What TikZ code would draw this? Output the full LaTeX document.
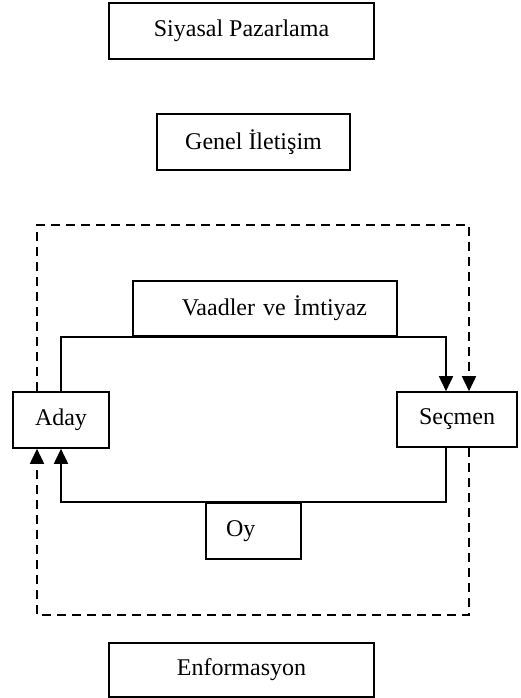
\documentclass[tikz,border=0pt]{standalone}
\usepackage{fontspec}
\setmainfont{Liberation Serif}
\usetikzlibrary{arrows.meta}

\begin{document}
\begin{tikzpicture}[x=1pt, y=-1pt,
    font=\fontsize{24}{28}\selectfont,
    box/.style={draw, line width=1.6pt, inner sep=0pt, anchor=center},
    link/.style={line width=1.7pt},
    info/.style={line width=1.7pt, dash pattern=on 9pt off 6pt},
    tip/.style={-{Triangle[width=14pt, length=15pt]}}]
    \useasboundingbox (0,0) rectangle (521,698);

    % Top boxes
    \node[box, minimum width=265pt, minimum height=56pt] (pazar) at (241.5,31) {Siyasal Pazarlama};
    \node[box, minimum width=193pt, minimum height=56pt] (genel) at (253.5,142) {Genel İletişim};

    % Actors
    \node[box, minimum width=96pt, minimum height=56pt] (aday) at (61,420) {Aday};
    \node[box, minimum width=120pt, minimum height=55pt] (secmen) at (457,419.5) {Seçmen};

    % Exchange boxes
    \node[box, minimum height=55pt, inner xsep=30pt, text width=204pt, align=right] (vaad) at (265,308.5) {Vaadler ve İmtiyaz};
    \node[box, minimum height=56pt, inner xsep=20pt, text width=55pt, align=left] (oy) at (253.5,531) {Oy};

    \node[box, minimum width=265pt, minimum height=54pt] (enform) at (241.5,670) {Enformasyon};

    % Levels of the dashed loop
    \coordinate (dtop) at (0,225);
    \coordinate (dbot) at (0,615);

    % Promises and votes
    \draw[link, tip] (aday.north) |- ([xshift=-11pt]secmen.north |- vaad.south) -- ([xshift=-11pt]secmen.north);
    \draw[link, tip] ([xshift=-11pt]secmen.south) |- (aday.south |- oy.north) -- (aday.south);

    % Information flow
    \draw[info, tip] ([xshift=-24pt]aday.north) |- ([xshift=12pt]secmen.north |- dtop) -- ([xshift=12pt]secmen.north);
    \draw[info, tip] ([xshift=12pt]secmen.south) |- ([xshift=-24pt]aday.south |- dbot) -- ([xshift=-24pt]aday.south);
\end{tikzpicture}
\end{document}
